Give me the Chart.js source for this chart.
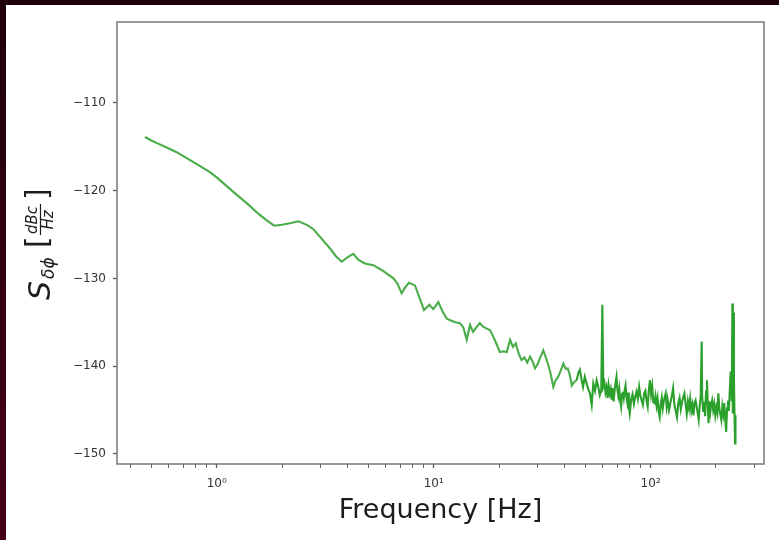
<!DOCTYPE html>
<html>
<head>
<meta charset="utf-8">
<script src="https://cdn.jsdelivr.net/npm/chart.js@4.4.1/dist/chart.umd.min.js"></script>
<style>
  html, body { margin: 0; padding: 0; background: #ffffff; }
  #wrap { position: relative; width: 779px; height: 540px; overflow: hidden; background: #ffffff; }
  #c { position: absolute; left: 0; top: 0; }
  #bandTop { position: absolute; left: 0; top: 0; width: 779px; height: 5px; background: #1f0009; z-index: 2; }
  #bandLeft { position: absolute; left: 0; top: 0; width: 6px; height: 540px; background: linear-gradient(#1f0009, #47001a); z-index: 2; }
</style>
</head>
<body>
<div id="wrap">
  <canvas id="c" width="779" height="540"></canvas>
  <div id="bandTop"></div>
  <div id="bandLeft"></div>
</div>
<script>
// ---- data ----
const freqHz = [
  0.467, 0.50, 0.53, 0.578, 0.65, 0.75, 0.85, 0.93, 1.0, 1.2, 1.4, 1.55, 1.7, 1.84, 2.0, 2.2, 2.38, 2.6, 2.79,
  3.0, 3.33, 3.55, 3.77, 4.0, 4.26, 4.5, 4.82, 5.27, 5.8, 6.52, 6.8, 7.12, 7.4, 7.69, 8.2, 8.6, 9.02, 9.55, 9.96,
  10.5, 11.0, 11.5, 12.0, 12.6, 13.2, 13.7, 14.2, 14.7, 15.2, 15.7, 16.3, 16.9, 17.5, 18.2, 18.8, 19.5, 20.2,
  21.0, 21.7, 22.5, 23.2, 23.9, 24.6, 25.4, 26.2, 27.0, 27.8, 28.5, 29.3, 30.1, 31.0, 32.0, 33.2, 34.4, 35.6,
  36.5, 37.5, 38.5, 39.6, 40.6, 41.5, 42.4, 43.3, 44.4, 45.6, 46.4, 47.2, 48.0, 48.8, 49.7, 50.6, 51.5, 52.5,
  53.5, 54.4, 55.4, 56.4, 57.3, 58.3, 59.2, 59.9, 60.5, 61.2, 61.9, 62.6, 63.3, 64.0, 64.7, 65.4, 66.1, 66.8,
  67.5, 68.2, 68.9, 69.6, 70.3, 71.0, 71.7, 72.4, 73.1, 73.8, 74.5, 75.2, 75.9, 76.6, 77.3, 78.0, 78.7, 79.4,
  80.1, 81.3, 82.5, 83.7, 84.9, 86.1, 87.3, 88.5, 89.7, 90.9, 92.1, 93.3, 94.5, 95.7, 96.9, 98.1, 99.3, 100.5,
  101.7, 102.9, 104.1, 105.3, 106.5, 107.7, 108.9, 110.1, 111.3, 112.5, 113.7, 114.9, 116.1, 117.3, 118.5,
  119.7, 121.5, 123.3, 125.1, 126.9, 128.7, 130.5, 132.3, 134.1, 135.9, 137.7, 139.5, 141.3, 143.1, 144.9,
  146.7, 148.5, 150.3, 152.1, 153.9, 155.7, 157.5, 159.3, 161.1, 162.9, 164.7, 166.5, 168.3, 170.1, 171.9,
  172.8, 174.6, 176.4, 178.2, 180.0, 181.8, 183.6, 184.8, 186.6, 188.4, 190.2, 192.0, 194.2, 196.4, 198.6,
  200.8, 203.0, 205.2, 207.4, 209.6, 211.8, 214.0, 216.2, 218.4, 220.6, 222.8, 225.0, 227.2, 229.4, 231.6,
  233.8, 235.2, 236.6, 238.0, 239.2, 240.6, 242.0, 243.4, 245.0, 246.0
];
const psdDb = [
  -113.9, -114.3, -114.6, -115.0, -115.6, -116.5, -117.3, -117.9, -118.5, -120.2, -121.6, -122.6, -123.4, -124.0, -123.9, -123.7, -123.5, -123.9, -124.4,
  -125.3, -126.6, -127.5, -128.1, -127.6, -127.2, -127.9, -128.3, -128.5, -129.1, -130.0, -130.6, -131.7, -131.0, -130.5, -130.8, -132.2, -133.6, -133.0, -133.5,
  -132.7, -133.8, -134.6, -134.8, -135.0, -135.1, -135.6, -137.0, -135.3, -136.1, -135.6, -135.1, -135.5, -135.7, -135.9, -136.6, -137.5, -138.4,
  -138.3, -138.4, -137.0, -137.8, -137.4, -138.5, -139.3, -139.0, -139.6, -138.9, -139.4, -140.25, -139.8, -139.0, -138.2, -139.3, -140.6, -142.35,
  -141.6, -141.2, -140.5, -139.7, -140.3, -140.25, -141.0, -142.2, -141.8, -141.6, -140.8, -140.4, -141.5, -142.35, -141.2, -141.9, -142.6, -143.1,
  -144.4, -142.0, -142.8, -141.6, -142.3, -143.3, -142.8, -133.0, -142.3, -141.9, -143.0, -142.4, -143.6, -142.2, -143.1, -142.6, -143.8, -142.5,
  -144.0, -142.8, -141.9, -141.2, -142.7, -143.4, -142.6, -143.9, -144.6, -143.2, -142.9, -143.6, -142.7, -142.2, -143.5, -144.1, -143.0, -144.7,
  -145.4, -143.8, -143.2, -144.3, -143.5, -142.9, -143.7, -142.35, -143.4, -143.9, -144.4, -143.1, -142.8, -143.9, -144.6, -142.7, -141.6, -143.2,
  -142.3, -144.1, -144.2, -143.4, -144.5, -143.7, -145.2, -145.8, -144.3, -143.6, -144.8, -144.0, -143.5, -143.1, -144.6,
  -143.8, -145.0, -144.2, -143.4, -142.5, -144.4, -145.1, -145.8, -144.2, -143.6, -144.9, -144.1, -143.5, -143.1, -144.3,
  -145.4, -144.0, -144.8, -143.7, -145.1, -144.4, -145.6, -144.2, -143.9, -144.6, -145.3, -146.1, -144.5, -143.4, -137.2,
  -143.5, -145.2, -144.1, -145.7, -142.9, -141.6, -144.8, -146.5, -144.0, -145.2, -144.4, -143.9, -145.0, -144.3, -145.6,
  -144.7, -145.3, -143.1, -144.9, -145.5, -146.1, -144.6, -145.4, -144.2, -146.0, -147.5, -144.8, -143.9, -145.1, -142.8,
  -140.6, -141.5, -144.0, -132.85, -145.4, -133.9, -141.0, -145.2, -148.8, -145.6
];
const xMajorTicks = [1, 10, 100];
const xTickLabels = ['10\u2070', '10\u00B9', '10\u00B2'];
const xAllTicks = [0.4, 0.5, 0.6, 0.7, 0.8, 0.9, 1, 2, 3, 4, 5, 6, 7, 8, 9, 10, 20, 30, 40, 50, 60, 70, 80, 90, 100, 200, 300];
const yTicks = [-150, -140, -130, -120, -110];
const xTitle = 'Frequency [Hz]';

const points = freqHz.map((f, i) => ({ x: f, y: psdDb[i] }));

const framePlugin = {
  id: 'frame',
  afterDraw(chart) {
    const { ctx, chartArea: a } = chart;
    ctx.save();
    ctx.strokeStyle = '#6f6f6f';
    ctx.lineWidth = 1.4;
    ctx.strokeRect(a.left, a.top, a.right - a.left, a.bottom - a.top);
    ctx.restore();

    // x title
    ctx.save();
    ctx.fillStyle = '#1c1c1c';
    ctx.font = '27px "DejaVu Sans"';
    ctx.textAlign = 'center';
    ctx.textBaseline = 'middle';
    ctx.fillText(xTitle, (a.left + a.right) / 2, 511);
    ctx.restore();

    // y title (mathtext-like, rotated)
    ctx.save();
    ctx.fillStyle = '#1c1c1c';
    ctx.strokeStyle = '#1c1c1c';
    const cy = (a.top + a.bottom) / 2;
    ctx.translate(0, cy);
    ctx.rotate(-Math.PI / 2);
    ctx.textBaseline = 'alphabetic';
    ctx.textAlign = 'left';
    ctx.font = 'italic 30px "DejaVu Sans"';
    ctx.fillText('S', -57, 50);
    ctx.font = 'italic 17px "DejaVu Sans"';
    ctx.fillText('\u03B4\u03D5', -36, 54);
    ctx.font = '30px "DejaVu Sans"';
    ctx.fillText('[', -5, 47);
    ctx.textAlign = 'center';
    ctx.font = 'italic 15px "DejaVu Sans"';
    ctx.fillText('dBc', 23, 37);
    ctx.fillText('Hz', 23, 53);
    ctx.lineWidth = 1.2;
    ctx.beginPath();
    ctx.moveTo(8, 40.5);
    ctx.lineTo(39, 40.5);
    ctx.stroke();
    ctx.textAlign = 'left';
    ctx.font = '30px "DejaVu Sans"';
    ctx.fillText(']', 43, 47);
    ctx.restore();
  }
};

new Chart(document.getElementById('c'), {
  type: 'line',
  data: {
    datasets: [{
      data: points,
      borderColor: '#4aad4a',
      borderWidth: 2.1,
      segment: {
        borderColor: (c) => (c.p0.parsed.x > 45 ? '#2ca02c' : undefined)
      },
      pointRadius: 0,
      tension: 0,
      fill: false
    }]
  },
  options: {
    responsive: false,
    animation: false,
    devicePixelRatio: 1,
    layout: { padding: { left: 0, top: 22, right: 15, bottom: 0 } },
    plugins: { legend: { display: false }, tooltip: { enabled: false } },
    scales: {
      x: {
        type: 'logarithmic',
        bounds: 'data',
        min: 0.347,
        max: 333,
        afterBuildTicks(scale) {
          scale.ticks = xAllTicks.map(v => ({ value: v, major: xMajorTicks.includes(v) }));
        },
        afterFit(scale) { scale.height = 76; },
        ticks: {
          autoSkip: false,
          maxRotation: 0,
          minRotation: 0,
          padding: 9,
          color: '#333333',
          font: { family: 'DejaVu Sans', size: 12 },
          callback(value) {
            const k = xMajorTicks.indexOf(value);
            return k >= 0 ? xTickLabels[k] : '';
          }
        },
        grid: {
          drawOnChartArea: false,
          drawTicks: true,
          tickLength: 4,
          tickColor: '#555555',
          tickWidth: (c) => (c.tick && xMajorTicks.includes(c.tick.value) ? 1.3 : 0.9)
        },
        border: { display: false }
      },
      y: {
        type: 'linear',
        min: -151.14,
        max: -100.8,
        afterBuildTicks(scale) {
          scale.ticks = yTicks.map(v => ({ value: v }));
        },
        afterFit(scale) { scale.width = 117; },
        ticks: {
          padding: 7,
          color: '#333333',
          font: { family: 'DejaVu Sans', size: 12 },
          callback(value) { return '\u2212' + Math.abs(value); }
        },
        grid: {
          drawOnChartArea: false,
          drawTicks: true,
          tickLength: 4,
          tickColor: '#555555',
          tickWidth: 1.2
        },
        border: { display: false }
      }
    }
  },
  plugins: [framePlugin]
});
</script>
</body>
</html>
